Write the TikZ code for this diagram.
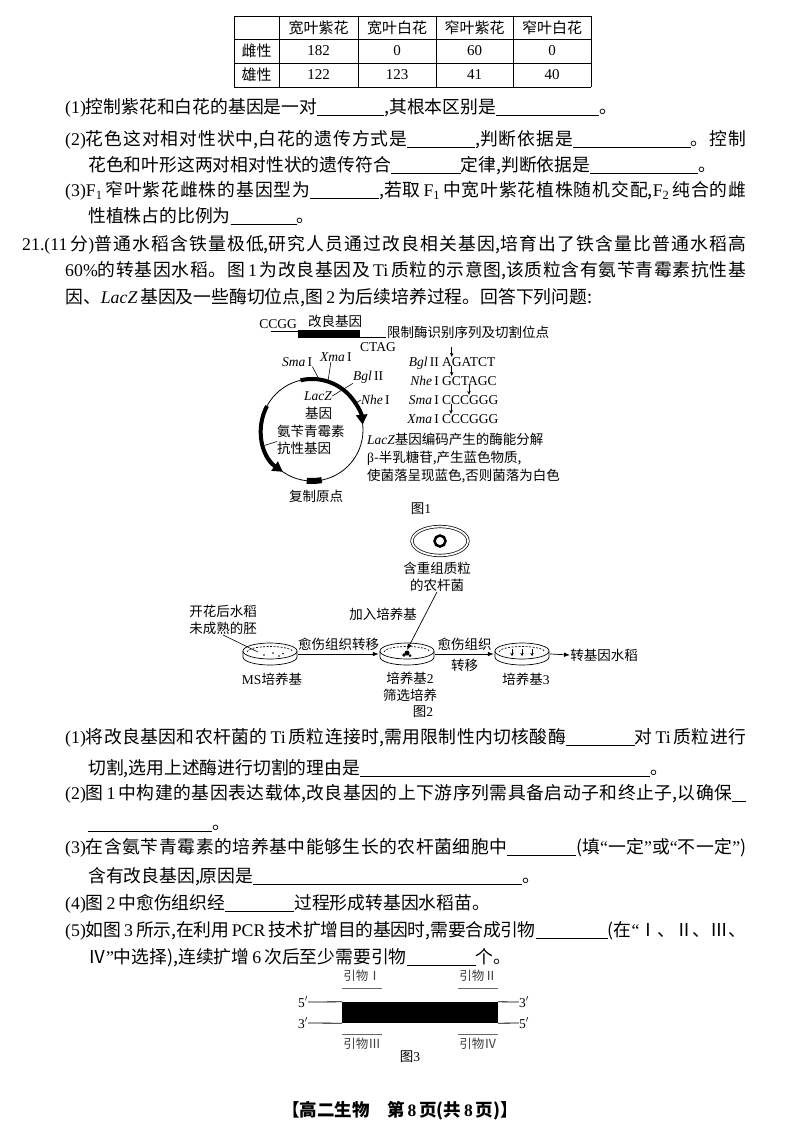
\documentclass[tikz,border=0pt]{standalone}
\usepackage{fontspec}
\setmainfont{Noto Sans CJK SC}
\newfontfamily\enfont{Liberation Serif}
\usetikzlibrary{arrows.meta, shapes.geometric, calc}
\XeTeXinterchartokenstate=1
\newXeTeXintercharclass\hanclass
\newcount\hanc
\hanc="4E00
\loop
  \XeTeXcharclass\hanc=\hanclass
  \advance\hanc by 1
\ifnum\hanc<"A000 \repeat
\hanc="3000
\loop
  \XeTeXcharclass\hanc=\hanclass
  \advance\hanc by 1
\ifnum\hanc<"3040 \repeat
\XeTeXinterchartoks\hanclass\hanclass={\hskip0pt plus 3pt minus 1pt\relax}
\newcommand{\bodyfont}{\fontsize{17.8}{21}\selectfont}
\newcommand{\figfont}{\fontsize{13.5}{17}\selectfont}
\newcommand{\figen}{\enfont\fontsize{13.5}{16}\selectfont}
\newcommand{\fillin}[1]{\rule[-2.5pt]{#1pt}{0.7pt}}
\newcommand{\jline}[2]{\makebox[#1pt][s]{#2}}
\newcommand{\lat}[1]{{\enfont #1}}
\newcommand{\Fsub}[1]{{\enfont F\textsubscript{#1}}}
\newcommand{\dish}[3]{%
  \node[ellipse, minimum width=56pt, minimum height=24pt, inner sep=0pt] (#2) at (#1) {};
  \begin{scope}[shift={(#1)}]
    \draw[dishline] (-27,-3) -- (-27,3) arc[start angle=180, end angle=0, x radius=27, y radius=8] -- (27,-3);
    \draw[dishline, fill=white] (0,-3) ellipse[x radius=27, y radius=8];
    \draw[dishline, dash pattern=on 2pt off 1.5pt] (-23,-2) arc[start angle=180, end angle=360, x radius=23, y radius=5.5];
    #3
  \end{scope}}

\begin{document}
\begin{tikzpicture}[x=1pt, y=-1pt,
    txt/.style={anchor=base west, inner sep=0pt, font=\bodyfont},
    lbl/.style={inner sep=0pt, font=\figfont},
    enlbl/.style={inner sep=0pt, font=\figen},
    cell/.style={inner sep=0pt, font=\fontsize{15}{18}\selectfont},
    lead/.style={line width=0.6pt},
    flow/.style={line width=0.7pt, -{Latex[length=6pt, width=4.5pt]}},
    cut/.style={line width=0.6pt, -{Stealth[length=4pt, width=3.5pt]}},
    gene/.style={line width=4pt, -{Triangle[length=10pt, width=11pt]}},
    dishline/.style={line width=0.7pt},
    primer/.style={line width=0.8pt, black!60}]
  \fill[white] (0,0) rectangle (800,1137);
  \useasboundingbox (0,0) rectangle (800,1137);

  \foreach \x in {234,279,358,436,513,591}
    \draw[line width=0.8pt] (\x,16) -- (\x,87);
  \foreach \y in {16,39,63,87}
    \draw[line width=0.8pt] (234,\y) -- (591,\y);
  \foreach \t/\x [count=\i] in {宽叶紫花/318.5, 宽叶白花/397, 窄叶紫花/474.5, 窄叶白花/552}
    \node[cell] (h\i) at (\x,27.5) {\t};
  \node[cell] (r1) at (256.5,51) {雌性};
  \node[cell] (r2) at (256.5,75) {雄性};
  \foreach \a/\b/\x [count=\i] in {182/122/318.5, 0/123/397, 60/41/474.5, 0/40/552} {
    \node[cell, font=\enfont\fontsize{15}{18}\selectfont] (f\i) at (\x,51) {\a};
    \node[cell, font=\enfont\fontsize{15}{18}\selectfont] (m\i) at (\x,75) {\b};
  }

  \node[txt] (p1) at (65,113.5) {\lat{(1)}控制紫花和白花的基因是一对\fillin{67},其根本区别是\fillin{103}。};
  \node[txt] (p2) at (65,145.5) {\jline{681}{\lat{(2)}花色这对相对性状中,白花的遗传方式是\fillin{68},判断依据是\fillin{118}。控制}};
  \node[txt] (p3) at (88,171.5) {花色和叶形这两对相对性状的遗传符合\fillin{70}定律,判断依据是\fillin{108}。};
  \node[txt] (p4) at (65,196.5) {\jline{681}{\lat{(3)}\Fsub{1}\,窄叶紫花雌株的基因型为\fillin{69},若取\,\Fsub{1}\,中宽叶紫花植株随机交配,\Fsub{2}\,纯合的雌}};
  \node[txt] (p5) at (88,222.5) {性植株占的比例为\fillin{66}。};
  \node[txt] (q1) at (22,250.5) {\jline{724}{\lat{21.(11}\,分\lat{)}普通水稻含铁量极低,研究人员通过改良相关基因,培育出了铁含量比普通水稻高}};
  \node[txt] (q2) at (65,276.5) {\jline{681}{\lat{60\%}的转基因水稻。图\,\lat{1}\,为改良基因及\,\lat{Ti}\,质粒的示意图,该质粒含有氨苄青霉素抗性基}};
  \node[txt] (q3) at (65,303.5) {因、\lat{\itshape LacZ}\,基因及一些酶切位点,图\,\lat{2}\,为后续培养过程。回答下列问题:};

  \node[enlbl] (ccgg) at (278,324) {CCGG};
  \node[lbl] (goodgene) at (335,321) {改良基因};
  \fill (298,330) rectangle (360,338);
  \draw[line width=0.7pt] (271,331) -- (298,331);
  \draw[line width=0.7pt] (360,337.5) -- (386,337.5);
  \node[enlbl] (ctag) at (378,347) {CTAG};
  \node[lbl, anchor=west] (sitetitle) at (387,332) {限制酶识别序列及切割位点};
  \foreach \e/\s/\o/\y [count=\i] in {{\itshape Bgl}\,II/AGATCT/9.75/366.5, {\itshape Nhe}\,I/GCTAGC/9.75/385.5, {\itshape Sma}\,I/CCCGGG/27/404.5, {\itshape Xma}\,I/CCCGGG/9/423.5} {
    \node[enlbl, anchor=base east] (enz\i) at (439,\y) {\e};
    \node[enlbl, anchor=base west] (seq\i) at (442,\y) {\s};
    \draw[cut] ([xshift=\o pt, yshift=10pt]seq\i.north west) -- ([xshift=\o pt, yshift=0.5pt]seq\i.north west);
  }
  \node[lbl, anchor=north west, align=left, font=\fontsize{13.5}{18}\selectfont] (lacnote) at (367,433)
    {\lat{\itshape LacZ}基因编码产生的酶能分解\\\lat{β}-半乳糖苷,产生蓝色物质,\\使菌落呈现蓝色,否则菌落为白色};

  \coordinate (pc) at (312,430);
  \draw[line width=0.8pt] (pc) circle[radius=51];
  \draw[gene] ($(pc)+(-103:51)$) arc[start angle=-103, end angle=-6, radius=51];
  \draw[gene] ($(pc)+(-152:51)$) arc[start angle=-152, end angle=-235, radius=51];
  \draw[line width=6pt] ($(pc)+(-264:51)$) arc[start angle=-264, end angle=-281, radius=51];
  \node[enlbl, anchor=west] (sma) at (282,362) {{\itshape Sma}\,I};
  \node[enlbl, anchor=west] (xma) at (320,357) {{\itshape Xma}\,I};
  \node[enlbl, anchor=west] (bgl) at (353,377) {{\itshape Bgl}\,II};
  \node[enlbl, anchor=west] (nhe) at (361,400) {{\itshape Nhe}\,I};
  \node[enlbl, anchor=west, font=\figen\itshape] (lacz) at (304,396) {LacZ};
  \node[lbl, anchor=west] (lacgene) at (305,413) {基因};
  \node[lbl, anchor=west] (amp1) at (277,431) {氨苄青霉素};
  \node[lbl, anchor=west] (amp2) at (277,448) {抗性基因};
  \node[lbl] (ori) at (316,496) {复制原点};
  \node[lbl] (fig1) at (421,509) {图\lat{1}};
  \draw[lead] (sma.south east) -- ($(pc)+(-81:50)$);
  \draw[lead] ([xshift=-5pt]xma.south) -- ($(pc)+(-72:52)$);
  \draw[lead] (lacz.east) -- (bgl.south west);
  \draw[lead] ($(pc)+(-32:49)$) -- (nhe.west);
  \draw[lead] ($(pc)+(162:50)$) -- (amp2.north west);

  \node[ellipse, draw, line width=0.7pt, double, double distance=1.8pt, minimum width=56pt, minimum height=29pt, inner sep=0pt] (agro) at (440,541) {};
  \draw[line width=2.5pt] (agro.center) circle[radius=5.5];
  \node[lbl, align=center] (agrotxt) at (437,577) {含重组质粒\\的农杆菌};
  \node[lbl] (feed) at (383,614) {加入培养基};
  \node[lbl, align=center] (embryo) at (223,620) {开花后水稻\\未成熟的胚};
  \dish{270,654}{msdish}{
    \foreach \u/\v in {-6/1, 3/-1, 9/2, 13/-0.5} \fill (\u,\v) circle[radius=0.9];
    \coordinate (embtip) at (-12,-2);}
  \dish{407,654}{seldish}{
    \fill (0,-1) circle[radius=2.5];
    \fill (-3,1) circle[radius=1.8];
    \fill (3,1.5) circle[radius=1.5];
    \coordinate (callus) at (0,-4);}
  \dish{522,654}{regdish}{
    \foreach \u in {-10,0,10}
      \draw[line width=0.8pt, -{Stealth[length=3pt, width=3.5pt]}] (\u,-5) -- (\u,2);}
  \node[lbl] (mstxt) at (272,679) {\lat{MS}培养基};
  \node[lbl, align=center] (seltxt) at (410,687) {培养基\lat{2}\\筛选培养};
  \node[lbl] (regtxt) at (526,679) {培养基\lat{3}};
  \node[lbl] (rice) at (604,655) {转基因水稻};
  \node[lbl] (fig2) at (423,712) {图\lat{2}};
  \draw[flow] (agrotxt.south) -- (callus);
  \draw[lead] (embryo.south) -- (embtip);
  \draw[flow] (msdish.east) -- node[lbl, above=3pt] {愈伤组织转移} (seldish.west);
  \draw[flow] (seldish.east) -- node[lbl, above=3pt] {愈伤组织} node[lbl, below=5pt] {转移} (regdish.west);
  \draw[flow] (regdish.east) -- (rice.west);

  \node[txt] (s1) at (65,743.5) {\jline{681}{\lat{(1)}将改良基因和农杆菌的\,\lat{Ti}\,质粒连接时,需用限制性内切核酸酶\fillin{69}对\,\lat{Ti}\,质粒进行}};
  \node[txt] (s2) at (88,774.5) {切割,选用上述酶进行切割的理由是\fillin{290}。};
  \node[txt] (s3) at (65,799.5) {\jline{681}{\lat{(2)}图\,\lat{1}\,中构建的基因表达载体,改良基因的上下游序列需具备启动子和终止子,以确保\fillin{14}}};
  \node[txt] (s4) at (88,829.5) {\fillin{124}。};
  \node[txt] (s5) at (65,853.5) {\jline{681}{\lat{(3)}在含氨苄青霉素的培养基中能够生长的农杆菌细胞中\fillin{69}(填\lat{“}一定\lat{”}或\lat{“}不一定\lat{”})}};
  \node[txt] (s6) at (88,882.5) {含有改良基因,原因是\fillin{269}。};
  \node[txt] (s7) at (65,909.5) {\lat{(4)}图\,\lat{2}\,中愈伤组织经\fillin{69}过程形成转基因水稻苗。};
  \node[txt] (s8) at (65,936.5) {\jline{681}{\lat{(5)}如图\,\lat{3}\,所示,在利用\,\lat{PCR}\,技术扩增目的基因时,需要合成引物\fillin{72}(在\lat{“}Ⅰ、Ⅱ、Ⅲ、}};
  \node[txt] (s9) at (88,963.5) {Ⅳ\lat{”}中选择),连续扩增\,\lat{6}\,次后至少需要引物\fillin{69}个。};

  \node[fill=black, minimum width=156pt, minimum height=21pt, inner sep=0pt] (target) at (420,1012.5) {};
  \node[enlbl] (tl) at (303,1002) {5$'$};
  \node[enlbl] (bl) at (303,1023) {3$'$};
  \node[enlbl] (tr) at (524,1002) {3$'$};
  \node[enlbl] (br) at (524,1023) {5$'$};
  \draw[line width=0.8pt] (tl.east) -- (target.north west);
  \draw[line width=0.8pt] (bl.east) -- (target.south west);
  \draw[line width=0.8pt] (target.north east) -- (tr.west);
  \draw[line width=0.8pt] (target.south east) -- (br.west);
  \node[lbl, minimum width=39pt, text=black!75, font=\fontsize{12.5}{15}\selectfont] (pr1) at (362,976) {引物Ⅰ};
  \node[lbl, minimum width=39pt, text=black!75, font=\fontsize{12.5}{15}\selectfont] (pr2) at (478,976) {引物Ⅱ};
  \node[lbl, minimum width=39pt, text=black!75, font=\fontsize{12.5}{15}\selectfont] (pr3) at (362,1044) {引物Ⅲ};
  \node[lbl, minimum width=39pt, text=black!75, font=\fontsize{12.5}{15}\selectfont] (pr4) at (478,1044) {引物Ⅳ};
  \draw[primer] ([yshift=-6pt]pr1.south west) -- ([yshift=-6pt]pr1.south east);
  \draw[primer] ([yshift=-6pt]pr2.south west) -- ([yshift=-6pt]pr2.south east);
  \draw[primer] ([yshift=4pt]pr3.north west) -- ([yshift=4pt]pr3.north east);
  \draw[primer] ([yshift=4pt]pr4.north west) -- ([yshift=4pt]pr4.north east);
  \node[lbl] (fig3) at (410,1057) {图\lat{3}};

  \node[anchor=base, inner sep=0pt, font=\fontsize{17.5}{20}\selectfont\bfseries] (foot) at (400,1116) {【高二生物\quad 第\,\lat{8}\,页(共\,\lat{8}\,页)】};
\end{tikzpicture}
\end{document}
